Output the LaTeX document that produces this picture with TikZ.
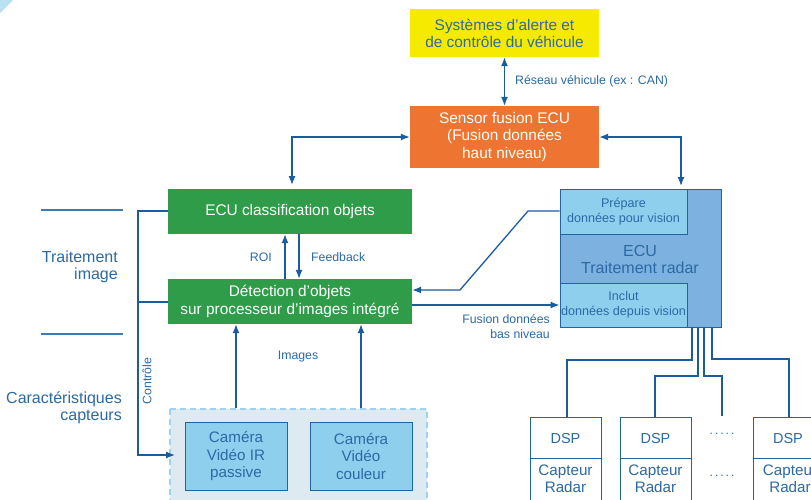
\documentclass[tikz,border=0pt]{standalone}
\usepackage{fontspec}
\setmainfont{Liberation Sans}
\usetikzlibrary{arrows.meta,calc}
\definecolor{cyel}{HTML}{F6EB00}
\definecolor{cora}{HTML}{EE7432}
\definecolor{cgrn}{HTML}{2E9C49}
\definecolor{ctxt}{HTML}{2B6AA6}
\definecolor{cline}{HTML}{1A5C9E}
\definecolor{cradar}{HTML}{7DB1DF}
\definecolor{cinner}{HTML}{8ECFEE}
\definecolor{cbord}{HTML}{1F64A5}
\definecolor{ccont}{HTML}{DDEAF2}
\definecolor{cdash}{HTML}{9DD3EE}
\definecolor{cleft}{HTML}{3D7DB5}
\tikzset{
  x=1pt,y=-1pt,
  box/.style={draw=none,inner sep=0pt,align=center,font=\fontsize{15.4}{17.5}\selectfont},
  bluebox/.style={draw=cbord,line width=1pt,inner sep=0pt,align=center,text=ctxt},
  conn/.style={draw=cline,line width=1.3pt},
  arr/.style={conn,-{Latex[length=9pt,width=7pt]}},
  darr/.style={conn,{Latex[length=9pt,width=7pt]}-{Latex[length=9pt,width=7pt]}},
  lbl/.style={text=ctxt,font=\fontsize{12.3}{15}\selectfont,inner sep=0pt},
  side/.style={text=ctxt,font=\fontsize{16}{17}\selectfont,inner sep=0pt,align=right},
  big/.style={text=ctxt,font=\fontsize{15.2}{17}\selectfont},
}
\begin{document}
\begin{tikzpicture}
\useasboundingbox (0,0) rectangle (811,499);
\fill[white] (0,0) rectangle (811,499);
\fill[cdash!70] (0,0) -- (13,0) -- (0,13) -- cycle;

% top boxes
\node[box,fill=cyel,text=ctxt,minimum width=189pt,minimum height=48pt,font=\fontsize{15.4}{17}\selectfont] (yel) at (504.5,33) {Systèmes d’alerte et\\de contrôle du véhicule};
\node[box,fill=cora,text=white,minimum width=189pt,minimum height=62pt] (ora) at (504.5,137) {Sensor fusion ECU\\(Fusion données\\haut niveau)};
\draw[darr] (yel.south) -- (ora.north) node[lbl,midway,right=10pt] {Réseau véhicule (ex : CAN)};

% green boxes
\node[box,fill=cgrn,text=white,minimum width=244pt,minimum height=45pt] (cls) at (290,211.5) {ECU classification objets};
\node[box,fill=cgrn,text=white,minimum width=244pt,minimum height=45pt,font=\fontsize{15.4}{18}\selectfont] (det) at (290,301.5) {Détection d’objets\\sur processeur d’images intégré};

% radar ECU
\node[bluebox,fill=cradar,minimum width=161pt,minimum height=138pt] (rad) at (640.5,258) {};
\node[bluebox,fill=cinner,minimum width=127pt,minimum height=45pt,font=\fontsize{12.6}{15}\selectfont] (prep) at (623.5,211.5) {Prépare\\données pour vision};
\node[bluebox,fill=cinner,minimum width=127pt,minimum height=44pt,font=\fontsize{12.6}{15}\selectfont] (incl) at (623.5,305) {Inclut\\données depuis vision};
\node[text=ctxt,font=\fontsize{16}{17}\selectfont,align=center,inner sep=0pt] (radt) at (640,259.5) {ECU\\Traitement radar};

% connectors top
\draw[darr] (ora.west) -| (292,185);
\draw[darr] (ora.east) -| (681,186);
\coordinate (ra) at (285,0);
\coordinate (fb) at (299,0);
\draw[arr] (ra |- det.north) -- (ra |- cls.south);
\draw[arr] (fb |- cls.south) -- (fb |- det.north);
\node[lbl,anchor=east] (roi) at (272,257) {ROI};
\node[lbl,anchor=west] (feed) at (311,257) {Feedback};

\coordinate (pk1) at (528,211);
\coordinate (pk2) at (460,290);
\draw[arr] (prep.west |- pk1) -- (pk1) -- (pk2) -- (det.east |- pk2);
\coordinate (fz) at (0,305);
\draw[arr] (det.east |- fz) -- (incl.west |- fz);
\node[lbl,align=right,anchor=north east,font=\fontsize{12.3}{15}\selectfont] (fus) at (550,314) {Fusion données\\bas niveau};

% cameras
\draw[draw=cdash,fill=ccont,line width=1.3pt,dash pattern=on 6pt off 4pt] (170,409) rectangle (427,510);
\node (cont) at (298.5,459) [minimum width=257pt,minimum height=101pt,inner sep=0pt] {};
\node[bluebox,fill=cinner,minimum width=102pt,minimum height=68pt,font=\fontsize{15.2}{17.5}\selectfont] (cam1) at (236,456) {Caméra\\Vidéo IR\\passive};
\node[bluebox,fill=cinner,minimum width=102pt,minimum height=68pt,font=\fontsize{15.2}{17.5}\selectfont] (cam2) at (361,456) {Caméra\\Vidéo\\couleur};
\draw[arr] (cam1.center |- cont.north) -- (cam1.center |- det.south);
\draw[arr] (cam2.center |- cont.north) -- (cam2.center |- det.south);
\node[lbl] (img) at (298,357) {Images};

% control
\coordinate (c1) at (138,211);
\coordinate (c2) at (138,302);
\coordinate (c3) at (138,455);
\draw[conn] (cls.west |- c1) -- (c1) -- (c2);
\draw[conn] (det.west |- c2) -- (c2);
\draw[arr] (c2) -- (c3) -- (175,455);
\node[lbl,rotate=90] (ctl) at (147,381) {Contrôle};

% left side
\coordinate (l1a) at (41,210); \coordinate (l1b) at (123,210);
\coordinate (l2a) at (41,334); \coordinate (l2b) at (123,334);
\draw[cleft,line width=1.3pt] (l1a) -- (l1b);
\draw[cleft,line width=1.3pt] (l2a) -- (l2b);
\node[side,anchor=east] (ti) at (118,266.5) {Traitement\\image};
\node[side,anchor=east] (cc) at (122,407.5) {Caractéristiques\\capteurs};

% DSP boxes
\foreach \n/\xa/\xb in {d1/530/601,d2/620/691,d3/753/830}{
  \draw[cbord,line width=1pt,fill=white] (\xa,417) rectangle (\xb,510);
  \draw[cbord,line width=1pt] (\xa,458) -- (\xb,458);
}
\node[text=ctxt,font=\fontsize{14.5}{17}\selectfont] (dsp1) at (565.5,438) {DSP};
\node[text=ctxt,font=\fontsize{14.5}{17}\selectfont] (dsp2) at (655.5,438) {DSP};
\node[text=ctxt,font=\fontsize{14.5}{17}\selectfont] (dsp3) at (788,438) {DSP};
\node[big,align=center,anchor=north] (cap1) at (565.5,461.5) {Capteur\\Radar};
\node[big,align=center,anchor=north] (cap2) at (655.5,461.5) {Capteur\\Radar};
\node[big,align=center,anchor=north] (cap3) at (790,461.5) {Capteur\\Radar};
\node[text=ctxt,font=\fontsize{12}{14}\selectfont] (dots1) at (722,434) {.\,.\,.\,.\,.};
\node[text=ctxt,font=\fontsize{12}{14}\selectfont] (dots2) at (722,476) {.\,.\,.\,.\,.};

% radar wires
\draw[conn,line width=1.1pt] (692,327) -- (692,360) -- (567,360) -- (567,417);
\draw[conn,line width=1.1pt] (698,327) -- (698,376) -- (655,376) -- (655,417);
\draw[conn,line width=1.1pt] (704,327) -- (704,376) -- (722,376) -- (722,416);
\draw[conn,line width=1.1pt] (712,327) -- (712,359) -- (789,359) -- (789,417);
\end{tikzpicture}
\end{document}
